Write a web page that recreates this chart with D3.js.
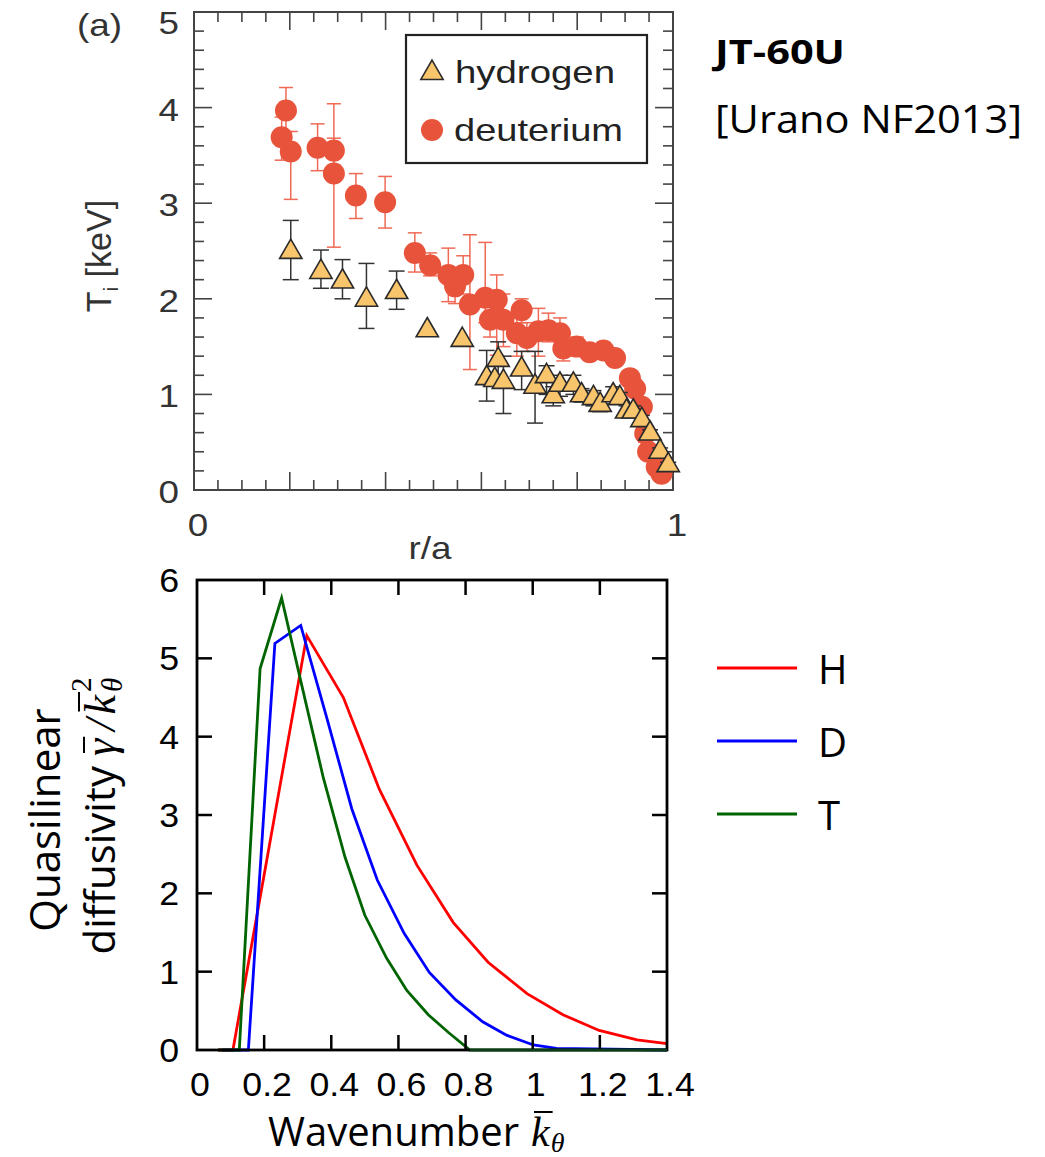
<!DOCTYPE html>
<html><head><meta charset="utf-8">
<script src="https://cdn.jsdelivr.net/npm/d3@7"></script>
<style>body{margin:0;background:#fff}svg{display:block}</style>
</head><body>
<svg id="c" width="1045" height="1157"></svg>
<script>
// ---------- Panel (a): JT-60U ion temperature ----------
const dR  = [0.183,0.192,0.202,0.258,0.292,0.292,0.338,0.399,0.461,0.493,0.531,0.545,0.562,0.576,0.608,0.618,0.632,0.646,0.684,0.674,0.695,0.719,0.740,0.764,0.771,0.799,0.826,0.855,0.879,0.910,0.921,0.935,0.942,0.948,0.966,0.976];
const dT  = [3.69,3.97,3.54,3.58,3.55,3.31,3.08,3.01,2.48,2.35,2.25,2.13,2.25,1.94,2.01,1.78,1.99,1.78,1.88,1.64,1.59,1.66,1.67,1.64,1.48,1.50,1.44,1.46,1.38,1.17,1.06,0.87,0.59,0.40,0.24,0.17];
const dLo = [3.45,3.75,3.04,3.34,3.38,2.54,2.84,2.74,2.28,2.24,1.97,1.95,2.05,1.26,1.75,1.60,1.41,1.50,1.75,1.40,1.45,1.40,1.55,1.50,1.35,1.40,1.36,1.40,1.30,1.10,0.98,0.80,0.50,0.33,0.18,0.09];
const dHi = [3.90,4.21,3.75,3.83,4.04,3.68,3.31,3.28,2.69,2.48,2.53,2.30,2.45,2.67,2.59,2.00,2.25,2.05,2.00,1.80,1.75,1.90,1.85,1.80,1.65,1.60,1.52,1.52,1.45,1.25,1.15,0.95,0.68,0.47,0.30,0.25];

const hR  = [0.202,0.265,0.310,0.360,0.423,0.487,0.560,0.611,0.635,0.628,0.646,0.684,0.712,0.736,0.750,0.764,0.792,0.809,0.834,0.848,0.875,0.889,0.903,0.917,0.935,0.952,0.973,0.990];
const hT  = [2.49,2.28,2.18,1.99,2.07,1.67,1.57,1.17,1.36,1.15,1.13,1.26,1.08,1.19,0.98,1.10,1.10,0.99,0.96,0.89,0.99,0.96,0.82,0.82,0.73,0.59,0.40,0.26];
const hLo = [2.20,2.11,2.00,1.69,1.89,null,null,0.93,1.10,null,0.80,1.05,0.70,1.00,0.88,0.98,1.00,0.92,0.88,0.82,0.90,0.90,0.76,0.76,0.68,0.55,0.36,0.23];
const hHi = [2.82,2.51,2.41,2.37,2.29,null,null,1.46,1.55,null,1.40,1.45,1.45,1.30,1.08,1.20,1.20,1.06,1.04,0.96,1.08,1.02,0.88,0.88,0.78,0.63,0.44,0.29];

const topXTickLabels = ["0","1"];
const topYTickLabels = ["0","1","2","3","4","5"];
const topLegend = ["hydrogen","deuterium"];

// ---------- Panel (b): quasilinear diffusivity ----------
const kH = [0.063,0.107,0.327,0.436,0.543,0.655,0.763,0.867,0.983,1.090,1.198,1.311,1.40];
const vH = [0,0,5.29,4.50,3.33,2.36,1.63,1.12,0.72,0.45,0.25,0.13,0.08];
const kD = [0.075,0.153,0.232,0.309,0.386,0.461,0.537,0.617,0.692,0.771,0.851,0.922,1.002,1.071,1.40];
const vD = [0,0,5.19,5.42,4.25,3.08,2.17,1.49,0.99,0.64,0.36,0.19,0.064,0.02,0];
const kT = [0.063,0.126,0.188,0.252,0.314,0.376,0.441,0.50,0.565,0.625,0.689,0.75,0.813,1.40];
const vT = [0,0,4.87,5.77,4.62,3.48,2.46,1.72,1.17,0.76,0.45,0.22,0,0];
const isoNames = ["H","D","T"];
const botXTickLabels = ["0","0.2","0.4","0.6","0.8","1","1.2","1.4"];
const botYTickLabels = ["0","1","2","3","4","5","6"];

const svg = d3.select("#c");
const SANS = "'Liberation Sans', Arial, sans-serif";
const CAL = "'Open Sans', 'Noto Sans', sans-serif";
const SERIF = "'Liberation Serif', 'DejaVu Serif', serif";

function stext(g, x, y, s, opts){
  const t = g.append("text").attr("transform",`translate(${x},${y}) scale(${opts.sx||1},1)`)
    .attr("text-anchor",opts.anchor||"start").attr("font-family",opts.family||SANS)
    .attr("font-size",opts.size||30).attr("fill",opts.fill||"#000").text(s);
  return t;
}

// ================= TOP PANEL =================
const x1 = d3.scaleLinear().domain([0,1]).range([194,673]);
const y1 = d3.scaleLinear().domain([0,5]).range([490,12]);
const g1 = svg.append("g");
const fc = "#444";
d3.range(0,1.0001,0.05).forEach((v,i)=>{
  const L = (i%4===0)?18:10;
  g1.append("line").attr("x1",x1(v)).attr("x2",x1(v)).attr("y1",y1(0)).attr("y2",y1(0)-L).attr("stroke",fc).attr("stroke-width",1.6);
  g1.append("line").attr("x1",x1(v)).attr("x2",x1(v)).attr("y1",y1(5)).attr("y2",y1(5)+L).attr("stroke",fc).attr("stroke-width",1.6);
});
d3.range(0,5.0001,0.2).forEach((v,i)=>{
  const L = (i%5===0)?18:10;
  g1.append("line").attr("y1",y1(v)).attr("y2",y1(v)).attr("x1",x1(0)).attr("x2",x1(0)+L).attr("stroke",fc).attr("stroke-width",1.6);
  g1.append("line").attr("y1",y1(v)).attr("y2",y1(v)).attr("x1",x1(1)).attr("x2",x1(1)-L).attr("stroke",fc).attr("stroke-width",1.6);
});
g1.append("rect").attr("x",x1(0)).attr("y",y1(5)).attr("width",x1(1)-x1(0)).attr("height",y1(0)-y1(5))
  .attr("fill","none").attr("stroke",fc).attr("stroke-width",2);

const topTxt = {size:32, sx:1.15, fill:"#333"};
topYTickLabels.forEach(t=>{
  const cy = Math.min(497, Math.max(23, y1(+t)+2));
  stext(g1, 179, cy+11, t, Object.assign({anchor:"end"}, topTxt));
});
topXTickLabels.forEach(t=>{
  stext(g1, x1(+t)+4, 536, t, Object.assign({anchor:"middle"}, topTxt));
});
stext(g1, 430, 559, "r/a", Object.assign({anchor:"middle"}, topTxt));
stext(g1, 122, 36, "(a)", Object.assign({anchor:"end"}, topTxt));
// y label T_i [keV]
const yl = g1.append("text").attr("transform","translate(111,256) rotate(-90) scale(1.1,1.12)").attr("text-anchor","middle")
  .attr("font-family",SANS).attr("font-size",31).attr("fill","#333");
yl.append("tspan").text("T");
yl.append("tspan").attr("font-size",18).attr("dy",6).text("i");
yl.append("tspan").attr("dy",-6).text(" [keV]");

const dCol = "#e8533b", dErr = "#f06a55";
dR.forEach((r,i)=>{
  g1.append("line").attr("x1",x1(r)).attr("x2",x1(r)).attr("y1",y1(dLo[i])).attr("y2",y1(dHi[i])).attr("stroke",dErr).attr("stroke-width",1.5);
  [dLo[i],dHi[i]].forEach(v=>g1.append("line").attr("x1",x1(r)-7).attr("x2",x1(r)+7).attr("y1",y1(v)).attr("y2",y1(v)).attr("stroke",dErr).attr("stroke-width",1.5));
});
g1.selectAll("circle.d").data(dR).enter().append("circle").attr("class","d")
  .attr("cx",d=>x1(d)).attr("cy",(d,i)=>y1(dT[i])).attr("r",11).attr("fill",dCol);
const hErr = "#333";
hR.forEach((r,i)=>{
  if(hLo[i]==null) return;
  g1.append("line").attr("x1",x1(r)).attr("x2",x1(r)).attr("y1",y1(hLo[i])).attr("y2",y1(hHi[i])).attr("stroke",hErr).attr("stroke-width",1.5);
  [hLo[i],hHi[i]].forEach(v=>g1.append("line").attr("x1",x1(r)-8).attr("x2",x1(r)+8).attr("y1",y1(v)).attr("y2",y1(v)).attr("stroke",hErr).attr("stroke-width",1.5));
});
const tri = d3.symbol(d3.symbolTriangle, 215);
g1.selectAll("path.h").data(hR).enter().append("path").attr("class","h").attr("d",tri)
  .attr("transform",(d,i)=>`translate(${x1(d)},${y1(hT[i])})`)
  .attr("fill","#f8c46c").attr("stroke","#2a2a2a").attr("stroke-width",1.6);

g1.append("rect").attr("x",406).attr("y",35).attr("width",241).attr("height",128).attr("fill","#fff").attr("stroke","#222").attr("stroke-width",2.2);
g1.append("path").attr("d",tri).attr("transform","translate(432,73)").attr("fill","#f8c46c").attr("stroke","#2a2a2a").attr("stroke-width",1.6);
g1.append("circle").attr("cx",432).attr("cy",130).attr("r",11).attr("fill",dCol);
g1.append("text").attr("x",455).attr("y",83).attr("font-family",SANS).attr("font-size",32).attr("fill","#222")
  .attr("textLength",160).attr("lengthAdjust","spacingAndGlyphs").text(topLegend[0]);
g1.append("text").attr("x",454).attr("y",141).attr("font-family",SANS).attr("font-size",32).attr("fill","#222")
  .attr("textLength",169).attr("lengthAdjust","spacingAndGlyphs").text(topLegend[1]);

svg.append("text").attr("x",715).attr("y",64).attr("font-family",CAL).attr("font-weight","bold").attr("font-size",34)
  .attr("textLength",130).attr("lengthAdjust","spacingAndGlyphs").text("JT-60U");
svg.append("text").attr("x",715).attr("y",133).attr("font-family",CAL).attr("font-size",39)
  .attr("textLength",307).attr("lengthAdjust","spacingAndGlyphs").text("[Urano NF2013]");

// ================= BOTTOM PANEL =================
const x2 = d3.scaleLinear().domain([0,1.4]).range([197,667]);
const y2 = d3.scaleLinear().domain([0,6]).range([1050,580]);
const g2 = svg.append("g");
const colors = ["#ff0000","#0000ff","#006400"];
const series = [[kH,vH],[kD,vD],[kT,vT]];
const line = d3.line().x(d=>x2(d[0])).y(d=>y2(d[1]));
series.forEach((s,j)=>{
  const pts = s[0].map((k,i)=>[k,s[1][i]]);
  g2.append("path").attr("d",line(pts)).attr("fill","none").attr("stroke",colors[j]).attr("stroke-width",2.8).attr("stroke-linejoin","miter");
});
const tl = 15;
d3.range(0.2,1.3,0.2).forEach(v=>{
  g2.append("line").attr("x1",x2(v)).attr("x2",x2(v)).attr("y1",y2(0)).attr("y2",y2(0)-tl).attr("stroke","#000").attr("stroke-width",2.5);
  g2.append("line").attr("x1",x2(v)).attr("x2",x2(v)).attr("y1",y2(6)).attr("y2",y2(6)+tl).attr("stroke","#000").attr("stroke-width",2.5);
});
d3.range(1,6,1).forEach(v=>{
  g2.append("line").attr("y1",y2(v)).attr("y2",y2(v)).attr("x1",x2(0)).attr("x2",x2(0)+tl).attr("stroke","#000").attr("stroke-width",2.5);
  g2.append("line").attr("y1",y2(v)).attr("y2",y2(v)).attr("x1",x2(1.4)).attr("x2",x2(1.4)-tl).attr("stroke","#000").attr("stroke-width",2.5);
});
g2.append("rect").attr("x",x2(0)).attr("y",y2(6)).attr("width",x2(1.4)-x2(0)).attr("height",y2(0)-y2(6))
  .attr("fill","none").attr("stroke","#000").attr("stroke-width",2.8);
g2.append("path").attr("d",line([[0.813,0],[1.40,0]])).attr("stroke","#0b3d1a").attr("stroke-width",2).attr("fill","none");

botYTickLabels.forEach(t=>{
  stext(g2, 179, y2(+t)+12, t, {anchor:"end", size:34, sx:1.05});
});
botXTickLabels.forEach(t=>{
  stext(g2, x2(+t)+3, 1096, t, {anchor:"middle", size:34, sx:1.05});
});

// x label: Wavenumber k̄θ
const xlab = g2.append("text").attr("x",268).attr("y",1146).attr("font-family",CAL).attr("font-size",40).text("Wavenumber");
const wW = xlab.node().getComputedTextLength();
const kx = 268 + wW + 12;
const kt = g2.append("text").attr("x",kx).attr("y",1146).attr("font-family",SERIF).attr("font-style","italic").attr("font-size",42).text("k");
const kw = kt.node().getComputedTextLength();
g2.append("line").attr("x1",kx+3).attr("x2",kx+kw+3).attr("y1",1112).attr("y2",1112).attr("stroke","#000").attr("stroke-width",2);
g2.append("text").attr("x",kx+kw+1).attr("y",1152).attr("font-family",SERIF).attr("font-style","italic").attr("font-size",28).text("θ");

// y label (rotated, two lines)
g2.append("text").attr("transform","translate(60,820) rotate(-90)").attr("text-anchor","middle")
  .attr("font-family",CAL).attr("font-size",42).text("Quasilinear");
const g3 = g2.append("g").attr("transform","translate(115,0) rotate(-90)");
const p1 = g3.append("text").attr("font-family",CAL).attr("font-size",42).text("diffusivity");
const w1 = p1.node().getComputedTextLength() + 10;
const p2 = g3.append("text").attr("font-family",SERIF).attr("font-style","italic").attr("font-size",44).text("γ");
const w2 = p2.node().getComputedTextLength();
const p3 = g3.append("text").attr("font-family",SERIF).attr("font-style","italic").attr("font-size",44).text("/");
const w3 = p3.node().getComputedTextLength();
const p4 = g3.append("text").attr("font-family",SERIF).attr("font-style","italic").attr("font-size",44).text("k");
const w4 = p4.node().getComputedTextLength();
const p5 = g3.append("text").attr("font-family",SERIF).attr("font-size",29).text("2");
const p6 = g3.append("text").attr("font-family",SERIF).attr("font-style","italic").attr("font-size",29).text("θ");
const w6 = Math.max(p5.node().getComputedTextLength(), p6.node().getComputedTextLength());
const total = w1 + w2 + 8 + w3 + 4 + w4 + 3 + w6;
let cx = -816 - total/2;
p1.attr("x",cx).attr("y",0); cx += w1;
p2.attr("x",cx).attr("y",0);
g3.append("line").attr("x1",cx+3).attr("x2",cx+w2+2).attr("y1",-31).attr("y2",-31).attr("stroke","#000").attr("stroke-width",2);
cx += w2 + 8;
p3.attr("x",cx).attr("y",0); cx += w3 + 4;
p4.attr("x",cx).attr("y",0);
g3.append("line").attr("x1",cx+3).attr("x2",cx+w4+3).attr("y1",-36).attr("y2",-36).attr("stroke","#000").attr("stroke-width",2);
cx += w4 + 3;
p5.attr("x",cx).attr("y",-24);
p6.attr("x",cx).attr("y",7);

isoNames.forEach((n,i)=>{
  const yy = 668 + i*73;
  svg.append("line").attr("x1",717).attr("x2",797).attr("y1",yy).attr("y2",yy).attr("stroke",colors[i]).attr("stroke-width",3);
  svg.append("text").attr("x",818).attr("y",yy+16).attr("font-family",CAL).attr("font-size",40).text(n);
});
</script>
</body></html>
